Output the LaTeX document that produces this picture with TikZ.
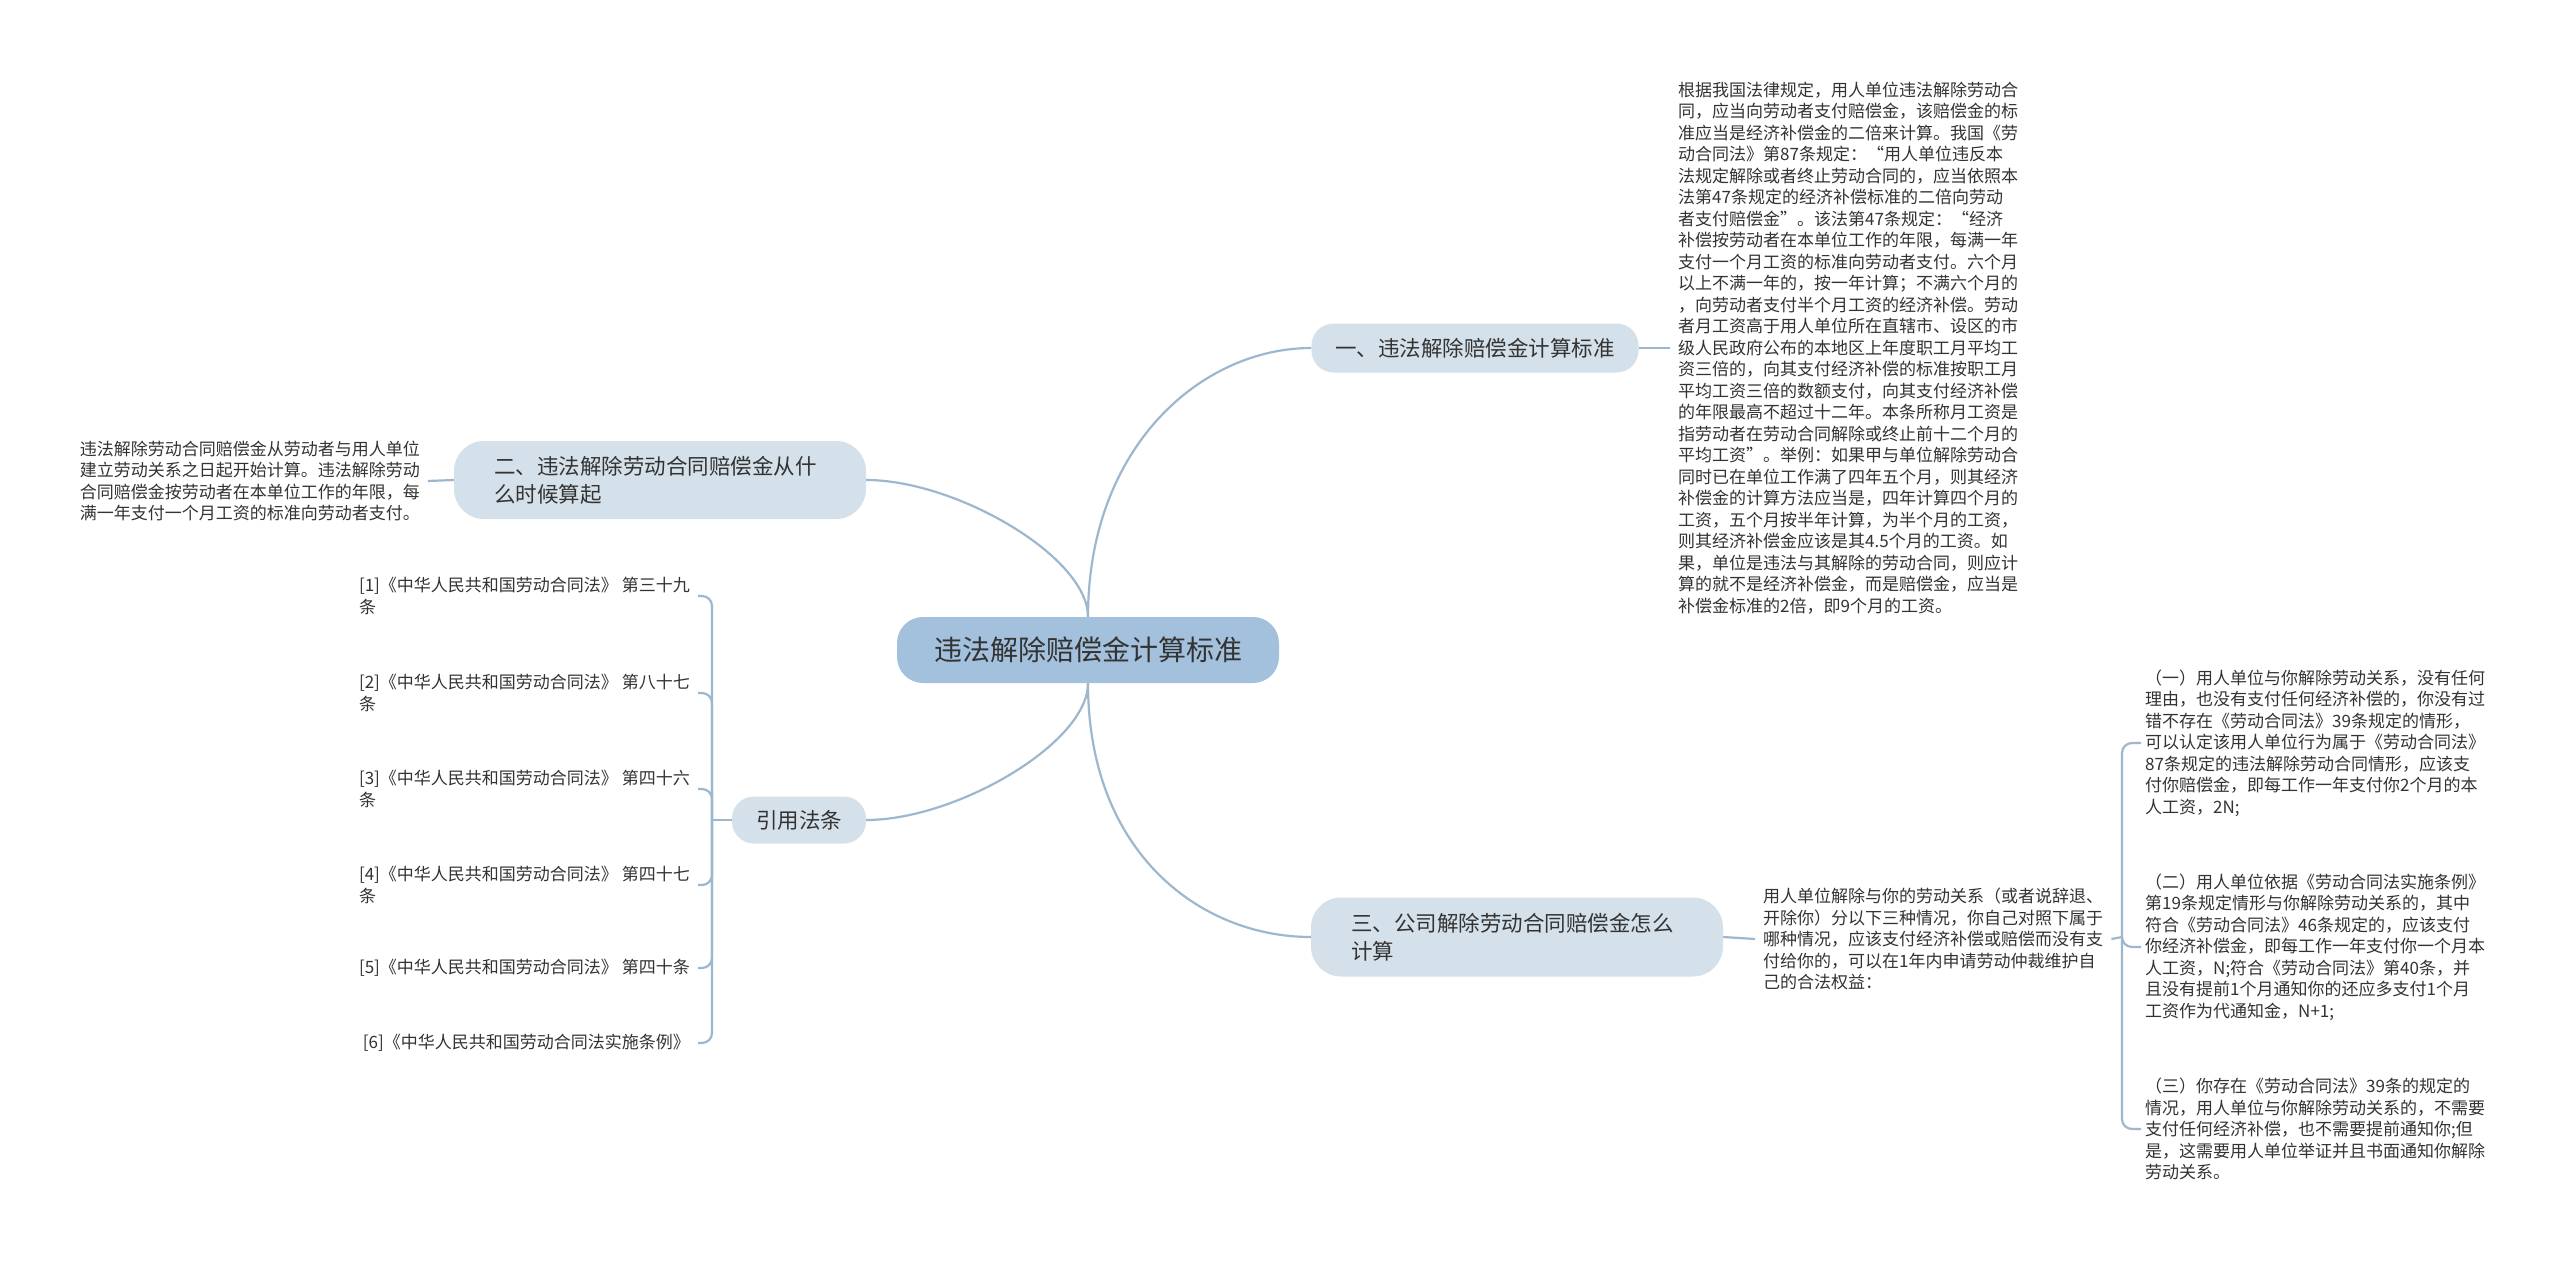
\documentclass[tikz,border=0pt]{standalone}
\usepackage{fontspec}
\newfontfamily\cjk{Noto Sans CJK SC}
\usetikzlibrary{positioning}
\definecolor{linkblue}{HTML}{9DB7CF}
\definecolor{rootfill}{HTML}{A3C1DD}
\definecolor{topicfill}{HTML}{D5E1EA}
\definecolor{inkgray}{HTML}{333333}

\begin{document}
\begin{tikzpicture}[x=1pt, y=-1pt,
  root/.style={fill=rootfill, rounded corners=26pt, minimum width=382pt,
    minimum height=66pt, font=\cjk\fontsize{28}{34}\selectfont, text=inkgray},
  topic/.style={fill=topicfill, rounded corners=22pt, text=inkgray,
    font=\cjk\fontsize{21.5}{28}\selectfont, align=left},
  leaf/.style={font=\cjk\fontsize{17}{21.5}\selectfont, text=inkgray,
    align=left, inner xsep=8pt, inner ysep=4pt},
  link/.style={draw=linkblue, line width=2.2pt},
]

% Background
\fill[white] (0,0) rectangle (2560,1263);
\useasboundingbox (0,0) rectangle (2560,1263);

% === Root ===
\node[root] (root) at (1088,650) {违法解除赔偿金计算标准};

% === Main topics ===
\node[topic, minimum width=327pt, minimum height=49pt] (std) at (1475,348)
  {一、违法解除赔偿金计算标准};
\node[topic, text width=332pt, inner xsep=40pt, minimum height=78pt,
  rounded corners=30pt] (start) at (660,480)
  {二、违法解除劳动合同赔偿金从什\\么时候算起};
\node[topic, minimum width=134pt, minimum height=47pt] (cite) at (799,820)
  {引用法条};
\node[topic, text width=332pt, inner xsep=40pt, minimum height=79pt,
  rounded corners=30pt] (calc) at (1517,937)
  {三、公司解除劳动合同赔偿金怎么\\计算};

\draw[link] (root.north) .. controls +(0,-170) and +(-110,0) .. (std.west);
\draw[link] (root.north) .. controls +(0,-60) and +(90,0) .. (start.east);
\draw[link] (root.south) .. controls +(0,60) and +(90,0) .. (cite.east);
\draw[link] (root.south) .. controls +(0,170) and +(-110,0) .. (calc.west);

% === Right top: standard text ===
\node[leaf, anchor=west] (stdtext) at (1670,348)
  {根据我国法律规定，用人单位违法解除劳动合\\
   同，应当向劳动者支付赔偿金，该赔偿金的标\\
   准应当是经济补偿金的二倍来计算。我国《劳\\
   动合同法》第87条规定：“用人单位违反本\\
   法规定解除或者终止劳动合同的，应当依照本\\
   法第47条规定的经济补偿标准的二倍向劳动\\
   者支付赔偿金”。该法第47条规定：“经济\\
   补偿按劳动者在本单位工作的年限，每满一年\\
   支付一个月工资的标准向劳动者支付。六个月\\
   以上不满一年的，按一年计算；不满六个月的\\
   ，向劳动者支付半个月工资的经济补偿。劳动\\
   者月工资高于用人单位所在直辖市、设区的市\\
   级人民政府公布的本地区上年度职工月平均工\\
   资三倍的，向其支付经济补偿的标准按职工月\\
   平均工资三倍的数额支付，向其支付经济补偿\\
   的年限最高不超过十二年。本条所称月工资是\\
   指劳动者在劳动合同解除或终止前十二个月的\\
   平均工资”。举例：如果甲与单位解除劳动合\\
   同时已在单位工作满了四年五个月，则其经济\\
   补偿金的计算方法应当是，四年计算四个月的\\
   工资，五个月按半年计算，为半个月的工资，\\
   则其经济补偿金应该是其4.5个月的工资。如\\
   果，单位是违法与其解除的劳动合同，则应计\\
   算的就不是经济补偿金，而是赔偿金，应当是\\
   补偿金标准的2倍，即9个月的工资。};
\draw[link] (std.east) -- (stdtext.west);

% === Left top: start text ===
\node[leaf, anchor=east] (starttext) at (428,481)
  {违法解除劳动合同赔偿金从劳动者与用人单位\\
   建立劳动关系之日起开始计算。违法解除劳动\\
   合同赔偿金按劳动者在本单位工作的年限，每\\
   满一年支付一个月工资的标准向劳动者支付。};
\draw[link] (start.west) -- (starttext.east);

% === Left bottom: cited articles ===
\coordinate (citefork) at (712,820);
\node[leaf, anchor=east] (law1) at (698,596) {[1]《中华人民共和国劳动合同法》 第三十九\\条};
\node[leaf, anchor=east] (law2) at (698,693) {[2]《中华人民共和国劳动合同法》 第八十七\\条};
\node[leaf, anchor=east] (law3) at (698,789) {[3]《中华人民共和国劳动合同法》 第四十六\\条};
\node[leaf, anchor=east] (law4) at (698,885) {[4]《中华人民共和国劳动合同法》 第四十七\\条};
\node[leaf, anchor=east] (law5) at (698,968) {[5]《中华人民共和国劳动合同法》 第四十条};
\node[leaf, anchor=east] (law6) at (698,1043) {[6]《中华人民共和国劳动合同法实施条例》};

\draw[link] (cite.west) -- (citefork);
\foreach \i in {1,...,6}
  \draw[link, rounded corners=10pt] (citefork) |- (law\i.east);

% === Right bottom: how to calculate ===
\node[leaf, anchor=west] (calctext) at (1755,939)
  {用人单位解除与你的劳动关系（或者说辞退、\\
   开除你）分以下三种情况，你自己对照下属于\\
   哪种情况，应该支付经济补偿或赔偿而没有支\\
   付给你的，可以在1年内申请劳动仲裁维护自\\
   己的合法权益：};
\draw[link] (calc.east) -- (calctext.west);

\coordinate (casefork) at (2122,937);
\node[leaf, anchor=west, inner xsep=4pt] (case1) at (2141,743)
  {（一）用人单位与你解除劳动关系，没有任何\\
   理由，也没有支付任何经济补偿的，你没有过\\
   错不存在《劳动合同法》39条规定的情形，\\
   可以认定该用人单位行为属于《劳动合同法》\\
   87条规定的违法解除劳动合同情形，应该支\\
   付你赔偿金，即每工作一年支付你2个月的本\\
   人工资，2N;};
\node[leaf, anchor=west, inner xsep=4pt] (case2) at (2141,947)
  {（二）用人单位依据《劳动合同法实施条例》\\
   第19条规定情形与你解除劳动关系的，其中\\
   符合《劳动合同法》46条规定的，应该支付\\
   你经济补偿金，即每工作一年支付你一个月本\\
   人工资，N;符合《劳动合同法》第40条，并\\
   且没有提前1个月通知你的还应多支付1个月\\
   工资作为代通知金，N+1;};
\node[leaf, anchor=west, inner xsep=4pt] (case3) at (2141,1129)
  {（三）你存在《劳动合同法》39条的规定的\\
   情况，用人单位与你解除劳动关系的，不需要\\
   支付任何经济补偿，也不需要提前通知你;但\\
   是，这需要用人单位举证并且书面通知你解除\\
   劳动关系。};

\draw[link] (calctext.east) -- (casefork);
\foreach \i in {1,2,3}
  \draw[link, rounded corners=10pt] (casefork) |- (case\i.west);

\end{tikzpicture}
\end{document}
